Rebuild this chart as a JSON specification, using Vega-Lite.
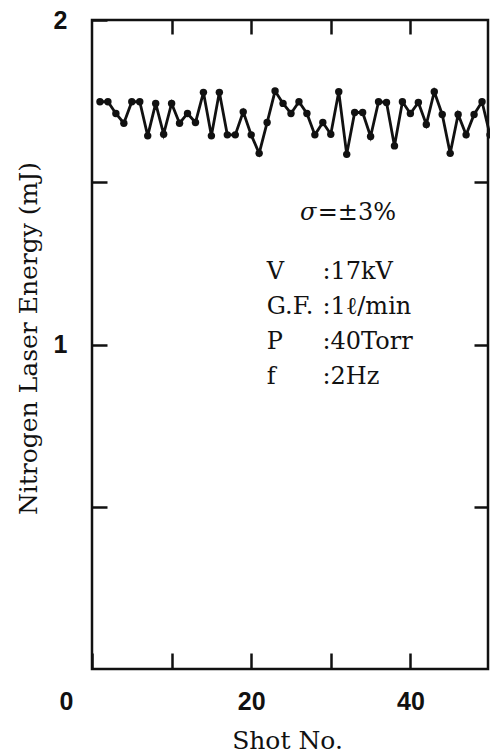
{
  "$schema": "https://vega.github.io/schema/vega-lite/v6.json",
  "width": 396,
  "height": 649,
  "autosize": {"type": "none"},
  "padding": {"left": 92, "top": 20, "right": 2, "bottom": 84},
  "background": "white",
  "config": {
    "view": {"stroke": "#111", "strokeWidth": 2.5}
  },
  "data": {
    "values": [
      {"shot": 1, "energy": 1.748}, {"shot": 2, "energy": 1.748}, {"shot": 3, "energy": 1.712},
      {"shot": 4, "energy": 1.682}, {"shot": 5, "energy": 1.748}, {"shot": 6, "energy": 1.748},
      {"shot": 7, "energy": 1.643}, {"shot": 8, "energy": 1.743}, {"shot": 9, "energy": 1.648},
      {"shot": 10, "energy": 1.743}, {"shot": 11, "energy": 1.682}, {"shot": 12, "energy": 1.712},
      {"shot": 13, "energy": 1.684}, {"shot": 14, "energy": 1.777}, {"shot": 15, "energy": 1.643},
      {"shot": 16, "energy": 1.777}, {"shot": 17, "energy": 1.646}, {"shot": 18, "energy": 1.646},
      {"shot": 19, "energy": 1.717}, {"shot": 20, "energy": 1.646}, {"shot": 21, "energy": 1.589},
      {"shot": 22, "energy": 1.684}, {"shot": 23, "energy": 1.781}, {"shot": 24, "energy": 1.743},
      {"shot": 25, "energy": 1.712}, {"shot": 26, "energy": 1.748}, {"shot": 27, "energy": 1.712},
      {"shot": 28, "energy": 1.646}, {"shot": 29, "energy": 1.684}, {"shot": 30, "energy": 1.648},
      {"shot": 31, "energy": 1.779}, {"shot": 32, "energy": 1.586}, {"shot": 33, "energy": 1.715},
      {"shot": 34, "energy": 1.715}, {"shot": 35, "energy": 1.641}, {"shot": 36, "energy": 1.748},
      {"shot": 37, "energy": 1.746}, {"shot": 38, "energy": 1.612}, {"shot": 39, "energy": 1.748},
      {"shot": 40, "energy": 1.712}, {"shot": 41, "energy": 1.746}, {"shot": 42, "energy": 1.678},
      {"shot": 43, "energy": 1.779}, {"shot": 44, "energy": 1.709}, {"shot": 45, "energy": 1.589},
      {"shot": 46, "energy": 1.709}, {"shot": 47, "energy": 1.646}, {"shot": 48, "energy": 1.709},
      {"shot": 49, "energy": 1.748}, {"shot": 50, "energy": 1.646}
    ]
  },
  "layer": [
    {
      "mark": {"type": "line", "color": "#111", "strokeWidth": 2.8, "clip": false},
      "encoding": {
        "x": {
          "field": "shot", "type": "quantitative",
          "scale": {"domain": [0, 49.75], "nice": false, "zero": false},
          "axis": {
            "orient": "bottom",
            "values": [0, 10, 20, 30, 40],
            "labelExpr": "datum.value % 20 == 0 ? format(datum.value, 'd') : ''",
            "tickSize": -16, "tickWidth": 2.5, "tickColor": "#111",
            "domain": false, "grid": false,
            "labelFont": "Liberation Sans", "labelFontWeight": "bold", "labelFontSize": 25,
            "labelColor": "#111", "labelBaseline": "middle", "labelPadding": 48,
            "labelFlush": false,
            "labelOffset": {"condition": {"test": "datum.value == 0", "value": -26}, "value": 0},
            "title": "Shot No.", "titleFont": "DejaVu Serif", "titleFontSize": 25,
            "titleFontWeight": "normal", "titleColor": "#111",
            "titleX": 195, "titleY": 71, "titleBaseline": "middle"
          }
        },
        "y": {
          "field": "energy", "type": "quantitative",
          "scale": {"domain": [0, 2], "nice": false},
          "axis": {
            "orient": "left",
            "values": [0.5, 1, 1.5, 2],
            "labelExpr": "datum.value == 1 || datum.value == 2 ? format(datum.value, 'd') : ''",
            "tickSize": -15, "tickWidth": 2.5, "tickColor": "#111",
            "domain": false, "grid": false,
            "labelFont": "Liberation Sans", "labelFontWeight": "bold", "labelFontSize": 25,
            "labelColor": "#111", "labelBaseline": "middle", "labelPadding": 40,
            "labelFlush": false,
            "title": "Nitrogen Laser Energy (mJ)", "titleFont": "DejaVu Serif", "titleFontSize": 25,
            "titleFontWeight": "normal", "titleColor": "#111",
            "titleX": -64, "titleY": 318, "titleBaseline": "middle"
          }
        }
      }
    },
    {
      "mark": {"type": "point", "filled": true, "color": "#111", "size": 55, "opacity": 1, "clip": false},
      "encoding": {
        "x": {"field": "shot", "type": "quantitative", "scale": {"domain": [0, 49.75], "nice": false, "zero": false}, "axis": null},
        "y": {"field": "energy", "type": "quantitative", "scale": {"domain": [0, 2], "nice": false}, "axis": null}
      }
    },
    {
      "mark": {"type": "point", "opacity": 0},
      "encoding": {
        "x": {
          "field": "shot", "type": "quantitative",
          "scale": {"domain": [0, 49.75], "nice": false, "zero": false},
          "axis": {"orient": "top", "values": [10, 20, 30, 40], "labels": false, "title": null,
                   "tickSize": -14, "tickWidth": 2.5, "tickColor": "#111", "domain": false, "grid": false}
        },
        "y": {
          "field": "energy", "type": "quantitative",
          "scale": {"domain": [0, 2], "nice": false},
          "axis": {"orient": "right", "values": [0.5, 1, 1.5], "labels": false, "title": null,
                   "tickSize": -14, "tickWidth": 2.5, "tickColor": "#111", "domain": false, "grid": false}
        }
      }
    },
    {
      "data": {"values": [{}]},
      "mark": {"type": "text", "text": "σ", "font": "DejaVu Serif", "fontSize": 24, "fontWeight": "normal", "fontStyle": "italic", "fill": "#111", "align": "right", "baseline": "middle"},
      "encoding": {
        "x": {"datum": 28.2, "type": "quantitative", "axis": null},
        "y": {"datum": 1.405, "type": "quantitative", "axis": null}
      }
    },
    {
      "data": {"values": [{}]},
      "mark": {"type": "text", "text": "=±3%", "font": "DejaVu Serif", "fontSize": 24, "fontWeight": "normal", "fill": "#111", "align": "left", "baseline": "middle"},
      "encoding": {
        "x": {"datum": 28.35, "type": "quantitative", "axis": null},
        "y": {"datum": 1.405, "type": "quantitative", "axis": null}
      }
    },
    {
      "data": {"values": [{}]},
      "mark": {"type": "text", "text": ["V", "G.F.", "P", "f"], "font": "DejaVu Serif", "fontSize": 24, "fontWeight": "normal", "fill": "#111", "align": "left", "baseline": "middle", "lineHeight": 35},
      "encoding": {
        "x": {"datum": 21.96, "type": "quantitative", "axis": null},
        "y": {"datum": 1.2234, "type": "quantitative", "axis": null}
      }
    },
    {
      "data": {"values": [{}]},
      "mark": {"type": "text", "text": [":17kV", ":1ℓ/min", ":40Torr", ":2Hz"], "font": "DejaVu Serif", "fontSize": 24, "fontWeight": "normal", "fill": "#111", "align": "left", "baseline": "middle", "lineHeight": 35},
      "encoding": {
        "x": {"datum": 28.95, "type": "quantitative", "axis": null},
        "y": {"datum": 1.2234, "type": "quantitative", "axis": null}
      }
    }
  ],
  "resolve": {"axis": {"x": "independent", "y": "independent"}}
}
